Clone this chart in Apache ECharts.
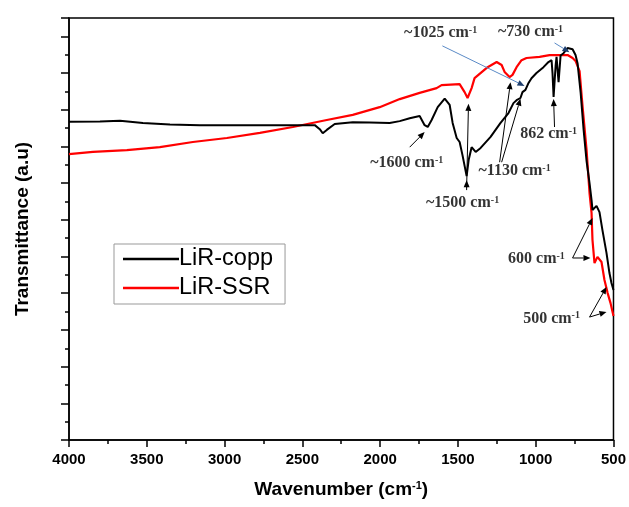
<!DOCTYPE html>
<html>
<head>
<meta charset="utf-8">
<script src="https://cdn.jsdelivr.net/npm/echarts@6/dist/echarts.min.js"></script>
<style>html,body{margin:0;padding:0;background:#fff;}#c{width:629px;height:507px;}</style>
</head>
<body>
<div id="c"></div>
<script>
// LiR-copp (black): [wavenumber, transmittance]
var coppData = [
[4000,8.67],[3801,8.68],[3672,8.70],[3525,8.64],[3351,8.60],[3159,8.58],[2838,8.58],[2517,8.58],
[2420,8.58],[2388,8.47],[2369,8.36],[2343,8.45],[2292,8.61],[2176,8.66],[2067,8.65],[1939,8.64],
[1874,8.69],[1810,8.77],[1746,8.83],[1714,8.58],[1694,8.53],[1669,8.72],[1630,9.07],[1585,9.30],
[1553,9.13],[1534,8.64],[1508,8.23],[1489,8.12],[1470,7.75],[1444,7.19],[1431,7.63],[1412,7.98],
[1386,7.85],[1354,7.96],[1290,8.26],[1226,8.64],[1175,8.91],[1143,9.18],[1123,9.26],[1098,9.32],
[1085,9.48],[1066,9.54],[1046,9.73],[1027,9.86],[995,10.00],[950,10.16],[918,10.30],[898,10.35],
[892,10.00],[885,9.35],[872,10.20],[866,10.44],[853,9.75],[840,10.48],[821,10.54],[795,10.68],
[763,10.65],[744,10.49],[731,10.27],[711,9.46],[692,8.45],[673,7.60],[654,7.00],[641,6.54],
[635,6.27],[609,6.38],[590,6.21],[571,5.72],[545,5.10],[526,4.55],[513,4.28],[500,4.09]
];
// LiR-SSR (red)
var ssrData = [
[4000,7.79],[3846,7.85],[3628,7.90],[3416,7.98],[3204,8.12],[2985,8.23],[2773,8.37],[2561,8.53],
[2343,8.72],[2176,8.86],[2003,9.07],[1874,9.29],[1746,9.46],[1637,9.59],[1605,9.67],[1489,9.70],
[1457,9.48],[1438,9.32],[1412,9.59],[1393,9.86],[1309,10.16],[1251,10.30],[1219,10.22],[1200,10.03],
[1168,9.89],[1149,9.95],[1123,10.16],[1091,10.35],[1059,10.41],[975,10.44],[911,10.49],[847,10.49],
[795,10.49],[763,10.41],[744,10.33],[718,10.05],[699,9.10],[673,7.90],[654,6.73],[641,6.19],
[635,5.45],[622,4.82],[603,4.99],[577,4.85],[558,4.36],[538,4.01],[519,3.73],[500,3.38]
];
var seriesNames = ['LiR-copp', 'LiR-SSR'];
var xTicks = [4000, 3500, 3000, 2500, 2000, 1500, 1000, 500];
// annotation labels: [wavenumber, value, text]
var noteLabels = [
[1611,11.09,'~1025 cm'],[1033,11.12,'~730 cm'],[917,8.34,'862 cm'],[1829,7.55,'~1600 cm'],
[1136,7.33,'~1130 cm'],[1470,6.46,'~1500 cm'],[995,4.93,'600 cm'],[898,3.30,'500 cm']
];
// annotation arrows: [x1,y1,x2,y2, blue?]
var noteArrows = [
[1600,10.74,1072,9.65,1],[879,10.82,783,10.57,1],[879,8.53,885,9.29,0],[1810,7.98,1714,8.39,0],
[1444,6.81,1444,7.08,0],[1444,6.87,1432,9.16,0],[1232,7.57,1162,9.75,0],[1219,7.57,1098,9.30,0],
[763,4.96,635,6.05,0],[763,4.96,648,4.96,0],[654,3.35,545,4.17,0],[654,3.35,545,3.49,0]
];

var chart = echarts.init(document.getElementById('c'), null, {renderer:'canvas'});
var serif = 'Liberation Serif';
var sans = 'Liberation Sans';

function renderArrow(params, api) {
  var p1 = api.coord([api.value(0), api.value(1)]);
  var p2 = api.coord([api.value(2), api.value(3)]);
  var blue = api.value(4) === 1;
  var lineColor = blue ? '#5a8ac6' : '#000';
  var headColor = blue ? '#1f3f6e' : '#000';
  var dx = p2[0] - p1[0], dy = p2[1] - p1[1];
  var len = Math.sqrt(dx*dx + dy*dy) || 1;
  var ux = dx/len, uy = dy/len;
  var hl = 7, hw = 3;
  var bx = p2[0] - ux*hl, by = p2[1] - uy*hl;
  return {
    type:'group',
    children:[
      {type:'line', shape:{x1:p1[0], y1:p1[1], x2:bx, y2:by}, style:{stroke:lineColor, lineWidth:1}},
      {type:'polygon', shape:{points:[[p2[0],p2[1]],[bx - uy*hw, by + ux*hw],[bx + uy*hw, by - ux*hw]]},
       style:{fill:headColor}}
    ]
  };
}

chart.setOption({
  animation: false,
  grid: {left:69, right:15, top:18, bottom:67, show:true, borderColor:'#000', borderWidth:1.5},
  legend: {
    data: seriesNames, orient:'vertical', left:114, top:244,
    padding:[3,12,4,9], itemGap:5, itemWidth:56, itemHeight:2.5, icon:'rect',
    borderColor:'#999', borderWidth:1,
    textStyle:{fontFamily:sans, fontSize:23.5, lineHeight:24, color:'#000', padding:[0,0,0,-5]}
  },
  xAxis: {
    type:'value', min:500, max:4000, interval:500, inverse:true,
    name:'Wavenumber (cm{s|-1})', nameLocation:'middle', nameGap:40,
    nameTextStyle:{fontFamily:sans, fontWeight:'bold', fontSize:19, color:'#000',
      rich:{s:{fontFamily:sans, fontWeight:'bold', fontSize:11, verticalAlign:'top', color:'#000'}}},
    axisLine:{lineStyle:{color:'#000', width:1.5}},
    axisTick:{show:true, inside:false, length:7, lineStyle:{color:'#000', width:1.5}},
    minorTick:{show:true, splitNumber:2, length:4, lineStyle:{color:'#000', width:1.5}},
    splitLine:{show:false},
    axisLabel:{fontFamily:sans, fontWeight:'bold', fontSize:15, color:'#000', margin:12,
      formatter:function(v){return xTicks.indexOf(v)>=0 ? String(v) : '';}}
  },
  yAxis: {
    type:'value', min:0, max:11.5, interval:1,
    name:'Transmittance (a.u)', nameLocation:'middle', nameGap:37,
    nameTextStyle:{fontFamily:sans, fontWeight:'bold', fontSize:19, color:'#000'},
    axisLine:{lineStyle:{color:'#000', width:1.5}},
    axisTick:{show:true, inside:false, length:8, lineStyle:{color:'#000', width:1.5}},
    minorTick:{show:true, splitNumber:2, length:4, lineStyle:{color:'#000', width:1.5}},
    splitLine:{show:false},
    axisLabel:{show:false}
  },
  series: [
    {name:seriesNames[0], type:'line', data:coppData, symbol:'none', showSymbol:false,
     lineStyle:{color:'#000', width:2}, itemStyle:{color:'#000'}, z:3},
    {name:seriesNames[1], type:'line', data:ssrData, symbol:'none', showSymbol:false,
     lineStyle:{color:'#ff0000', width:2.2}, itemStyle:{color:'#ff0000'}, z:2},
    {type:'custom', data:noteArrows, renderItem:renderArrow, silent:true, z:5, clip:false},
    {type:'scatter', data:noteLabels, symbolSize:0, silent:true, z:6,
     label:{show:true, position:'inside', color:'#000',
       formatter:function(p){return '{t|'+p.data[2]+'}{s|-1}';},
       rich:{t:{fontFamily:serif, fontWeight:'bold', fontSize:16, color:'#000'},
             s:{fontFamily:serif, fontWeight:'bold', fontSize:10, verticalAlign:'top', color:'#000'}}}}
  ]
});
</script>
</body>
</html>
